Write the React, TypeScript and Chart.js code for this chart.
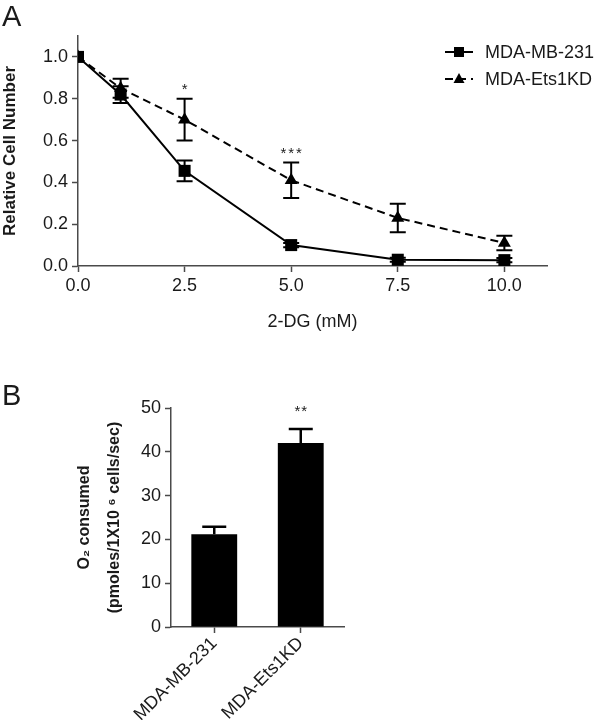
import React, { useEffect, useRef } from 'react';
import { Chart, registerables } from 'chart.js';

Chart.register(...registerables);

const FONT = '"Liberation Sans", Arial, Helvetica, sans-serif';
const AXIS = '#4a4a4a';
const TEXT = '#1a1a1a';

// ---------- Panel A data ----------
const doseMM = [0, 1, 2.5, 5, 7.5, 10];
const mb231Mean = [1.0, 0.82, 0.455, 0.1, 0.03, 0.028];
const mb231Err = [0, 0.04, 0.05, 0.01, 0.01, 0.01];
const ets1kdMean = [1.0, 0.85, 0.7, 0.41, 0.23, 0.11];
const ets1kdErr = [0, 0.045, 0.1, 0.085, 0.068, 0.035];
const doseTicks = [0, 2.5, 5, 7.5, 10];
const doseTickLabels = ['0.0', '2.5', '5.0', '7.5', '10.0'];
const cellTicks = [0, 0.2, 0.4, 0.6, 0.8, 1.0];
const cellTickLabels = ['0.0', '0.2', '0.4', '0.6', '0.8', '1.0'];
const sigADose = [2.5, 5];
const sigALabels = ['*', '***'];

// ---------- Panel B data ----------
const cellLines = ['MDA-MB-231', 'MDA-Ets1KD'];
const o2Mean = [21.2, 42.0];
const o2Err = [1.7, 3.2];
const o2Ticks = [0, 10, 20, 30, 40, 50];
const sigBLabels = ['', '**'];

const errorBarPlugin = {
  id: 'errorBars',
  afterDatasetsDraw(chart: any, _args: any, opts: any) {
    const ctx = chart.ctx;
    const yScale = chart.scales.y;
    chart.data.datasets.forEach((ds: any, di: number) => {
      const errs = ds.errors;
      if (!errs) return;
      const meta = chart.getDatasetMeta(di);
      meta.data.forEach((el: any, i: number) => {
        const e = errs[i];
        if (!e) return;
        const v = meta.controller.getParsed(i).y;
        const x = el.x;
        const w = opts.capWidth;
        const yTop = yScale.getPixelForValue(v + e);
        const yBot = opts.upOnly ? yScale.getPixelForValue(v) : yScale.getPixelForValue(v - e);
        ctx.save();
        ctx.setLineDash([]);
        ctx.strokeStyle = '#000';
        ctx.lineWidth = opts.lineWidth;
        ctx.beginPath();
        ctx.moveTo(x, yTop);
        ctx.lineTo(x, yBot);
        ctx.moveTo(x - w / 2, yTop);
        ctx.lineTo(x + w / 2, yTop);
        if (!opts.upOnly) {
          ctx.moveTo(x - w / 2, yBot);
          ctx.lineTo(x + w / 2, yBot);
        }
        ctx.stroke();
        ctx.restore();
      });
    });
  },
};

const sigPlugin = {
  id: 'sigMarks',
  afterDatasetsDraw(chart: any, _args: any, opts: any) {
    const ctx = chart.ctx;
    const yScale = chart.scales.y;
    const ds: any = chart.data.datasets[opts.dataset];
    const meta = chart.getDatasetMeta(opts.dataset);
    opts.indices.forEach((idx: number, k: number) => {
      const label = opts.labels[k];
      if (!label) return;
      const v = meta.controller.getParsed(idx).y + (ds.errors ? ds.errors[idx] : 0);
      const el: any = meta.data[idx];
      const y = yScale.getPixelForValue(v) - opts.gap;
      ctx.save();
      ctx.fillStyle = TEXT;
      ctx.font = `${opts.size}px ${FONT}`;
      (ctx as any).letterSpacing = opts.spacing + 'px';
      ctx.textAlign = 'center';
      ctx.textBaseline = 'alphabetic';
      ctx.fillText(label, el.x + opts.spacing / 2, y);
      ctx.restore();
    });
  },
};

const legendPlugin = {
  id: 'customLegend',
  afterDraw(chart: any, _args: any, opts: any) {
    const ctx = chart.ctx;
    chart.data.datasets.forEach((ds: any, i: number) => {
      const y = opts.y + i * opts.rowGap;
      ctx.save();
      ctx.strokeStyle = '#000';
      ctx.lineWidth = 2;
      ctx.setLineDash(ds.borderDash || []);
      ctx.beginPath();
      ctx.moveTo(opts.x, y);
      ctx.lineTo(opts.x + opts.lineLen, y);
      ctx.stroke();
      ctx.setLineDash([]);
      ctx.fillStyle = '#000';
      const cx = opts.x + opts.lineLen / 2;
      if (ds.pointStyle === 'rect') {
        ctx.fillRect(cx - 5, y - 5, 10, 10);
      } else {
        ctx.beginPath();
        ctx.moveTo(cx, y - 6);
        ctx.lineTo(cx + 5.5, y + 4);
        ctx.lineTo(cx - 5.5, y + 4);
        ctx.closePath();
        ctx.fill();
      }
      ctx.fillStyle = TEXT;
      ctx.font = `${opts.size}px ${FONT}`;
      ctx.textAlign = 'left';
      ctx.textBaseline = 'middle';
      ctx.fillText(ds.label, opts.x + opts.lineLen + 12, y + 1);
      ctx.restore();
    });
  },
};

function axisGrid() {
  return {
    display: true,
    drawOnChartArea: false,
    drawTicks: true,
    tickLength: 6,
    tickWidth: 1.5,
    tickColor: AXIS,
  };
}

function configA(): any {
  return {
    type: 'line',
    data: {
      datasets: [
        {
          label: 'MDA-MB-231',
          data: doseMM.map((x, i) => ({ x, y: mb231Mean[i] })),
          errors: mb231Err,
          borderColor: '#000',
          backgroundColor: '#000',
          borderWidth: 2,
          pointStyle: 'rect',
          pointRadius: 8.5,
          pointBorderWidth: 0,
          pointBackgroundColor: '#000',
          tension: 0,
        },
        {
          label: 'MDA-Ets1KD',
          data: doseMM.map((x, i) => ({ x, y: ets1kdMean[i] })),
          errors: ets1kdErr,
          borderColor: '#000',
          backgroundColor: '#000',
          borderWidth: 2,
          borderDash: [8, 5],
          pointStyle: 'triangle',
          pointRadius: 7.5,
          pointBorderWidth: 0,
          pointBackgroundColor: '#000',
          tension: 0,
        },
      ],
    },
    options: {
      animation: false,
      responsive: false,
      devicePixelRatio: 1,
      layout: { padding: { left: 2, right: 53, top: 0, bottom: 0 } },
      events: [],
      plugins: {
        legend: { display: false },
        tooltip: { enabled: false },
        title: {
          display: true,
          text: 'A',
          align: 'start',
          color: TEXT,
          font: { family: FONT, size: 29, weight: 'normal', lineHeight: 1 },
          padding: { top: 3, bottom: 4 },
        },
        errorBars: { capWidth: 16, lineWidth: 2, upOnly: false },
        sigMarks: {
          dataset: 1,
          indices: sigADose.map((d) => doseMM.indexOf(d)),
          labels: sigALabels,
          gap: 5,
          size: 15,
          spacing: 2,
        },
        customLegend: { x: 445, y: 52, rowGap: 27, lineLen: 28, size: 18 },
      },
      scales: {
        x: {
          type: 'linear',
          min: 0,
          max: 11,
          afterBuildTicks: (s: any) => {
            s.ticks = doseTicks.map((v) => ({ value: v }));
          },
          afterFit: (s: any) => {
            s.height = 84;
          },
          grid: axisGrid(),
          border: { display: true, color: AXIS, width: 1.5 },
          ticks: {
            color: TEXT,
            font: { family: FONT, size: 18 },
            padding: 3,
            maxRotation: 0,
            autoSkip: false,
            callback: (v: number) => doseTickLabels[doseTicks.indexOf(v)],
          },
          title: {
            display: true,
            text: '2-DG (mM)',
            color: TEXT,
            font: { family: FONT, size: 18, lineHeight: 1.2 },
            padding: { top: 0, bottom: 17 },
          },
        },
        y: {
          type: 'linear',
          min: 0,
          max: 1.1,
          afterBuildTicks: (s: any) => {
            s.ticks = cellTicks.map((v) => ({ value: v }));
          },
          afterFit: (s: any) => {
            s.width = 76;
          },
          grid: axisGrid(),
          border: { display: true, color: AXIS, width: 1.5 },
          ticks: {
            color: TEXT,
            font: { family: FONT, size: 18 },
            padding: 4,
            autoSkip: false,
            callback: (v: number) => cellTickLabels[cellTicks.findIndex((t) => Math.abs(t - v) < 1e-9)],
          },
          title: {
            display: true,
            text: 'Relative Cell Number',
            color: TEXT,
            font: { family: FONT, size: 17, weight: 'bold', lineHeight: 1 },
            padding: { top: 0, bottom: 0 },
          },
        },
      },
    },
    plugins: [errorBarPlugin, sigPlugin, legendPlugin],
  };
}

function configB(): any {
  return {
    type: 'bar',
    data: {
      labels: cellLines,
      datasets: [
        {
          label: 'O2 consumed',
          data: o2Mean,
          errors: o2Err,
          backgroundColor: '#000',
          borderWidth: 0,
          barPercentage: 0.53,
          categoryPercentage: 1,
        },
      ],
    },
    options: {
      animation: false,
      responsive: false,
      devicePixelRatio: 1,
      events: [],
      layout: { padding: { left: 2, right: 256, top: 0, bottom: 0 } },
      plugins: {
        legend: { display: false },
        tooltip: { enabled: false },
        title: {
          display: true,
          text: 'B',
          align: 'start',
          color: TEXT,
          font: { family: FONT, size: 29, weight: 'normal', lineHeight: 1 },
          padding: { top: 22, bottom: -3 },
        },
        errorBars: { capWidth: 24, lineWidth: 2.5, upOnly: true },
        sigMarks: {
          dataset: 0,
          indices: [0, 1],
          labels: sigBLabels,
          gap: 13,
          size: 15,
          spacing: 1,
        },
      },
      scales: {
        x: {
          type: 'category',
          offset: true,
          afterFit: (s: any) => {
            s.height = 93;
          },
          grid: { ...axisGrid(), offset: false },
          border: { display: true, color: AXIS, width: 1.5 },
          ticks: {
            color: TEXT,
            font: { family: FONT, size: 18 },
            padding: 0,
            minRotation: 45,
            maxRotation: 45,
            autoSkip: false,
          },
        },
        y: {
          type: 'linear',
          min: 0,
          max: 50,
          afterBuildTicks: (s: any) => {
            s.ticks = o2Ticks.map((v) => ({ value: v }));
          },
          afterFit: (s: any) => {
            s.width = 169;
          },
          grid: axisGrid(),
          border: { display: true, color: AXIS, width: 1.5 },
          ticks: {
            color: TEXT,
            font: { family: FONT, size: 18 },
            padding: 4,
            autoSkip: false,
          },
          title: {
            display: true,
            text: ['O\u2082 consumed', '(pmoles/1X10 \u2076 cells/sec)'],
            color: TEXT,
            font: { family: FONT, size: 16, weight: 'bold', lineHeight: 1.875 },
            padding: { top: 68, bottom: 0 },
          },
        },
      },
    },
    plugins: [errorBarPlugin, sigPlugin],
  };
}

export default function App() {
  const refA = useRef<HTMLCanvasElement>(null);
  const refB = useRef<HTMLCanvasElement>(null);

  useEffect(() => {
    const a = new Chart(refA.current as HTMLCanvasElement, configA());
    const b = new Chart(refB.current as HTMLCanvasElement, configB());
    return () => {
      a.destroy();
      b.destroy();
    };
  }, []);

  return (
    <div style={{ position: 'absolute', left: 0, top: 0, width: 600, height: 720, background: '#fff' }}>
      <canvas ref={refA} width={600} height={350} style={{ position: 'absolute', left: 0, top: 0 }} />
      <canvas ref={refB} width={600} height={360} style={{ position: 'absolute', left: 0, top: 360 }} />
    </div>
  );
}
